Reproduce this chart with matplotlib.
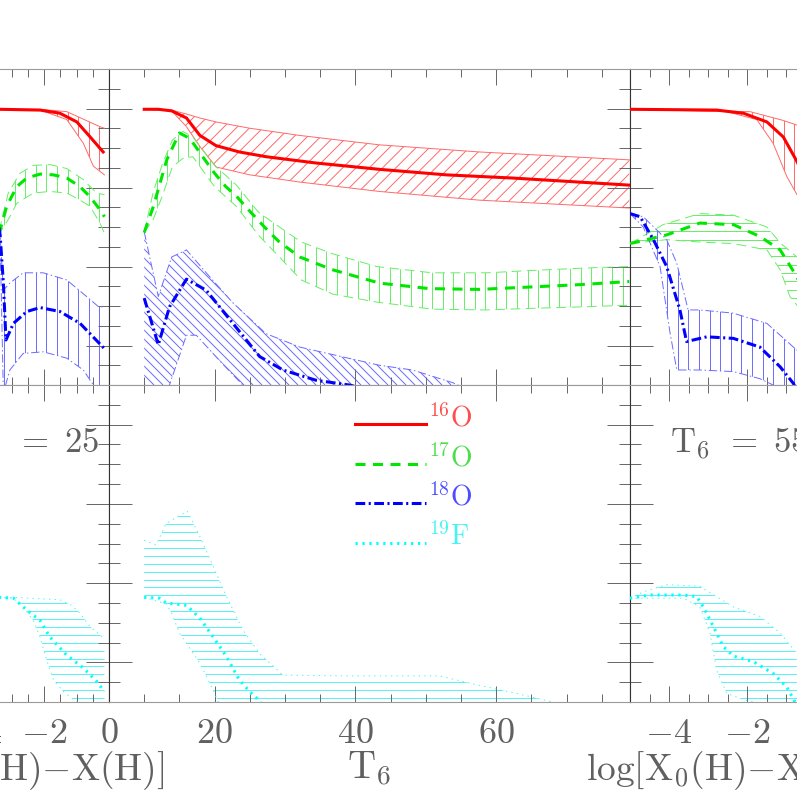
#!/usr/bin/env python3
# -*- coding: utf-8 -*-
"""
Oxygen isotopes (top) and 19F (bottom) with uncertainty bands:
left/right columns vs. log[X0(H)-X(H)] at fixed T6, middle column vs. T6.
"""

import numpy as np
import matplotlib
matplotlib.use('Agg')
import matplotlib.pyplot as plt
from matplotlib.patches import Polygon
from matplotlib.collections import LineCollection
from matplotlib.transforms import IdentityTransform
from matplotlib.ticker import MultipleLocator, FuncFormatter

plt.rcParams['mathtext.fontset'] = 'cm'
plt.rcParams['lines.scale_dashes'] = False

# --- left column (T6 = 25), x = log[X0(H)-X(H)] ---
L_O16_X = [-6, -3.35, -2.12, -1.51, -0.99, -0.58, -0.18]
L_O16 = [-2.01, -2.01, -2.02, -2.06, -2.17, -2.36, -2.55]
L_O16_UP_X = [-6, -2.12, -1.30, -0.28, -0.14]
L_O16_UP = [-2.01, -2.01, -2.04, -2.23, -2.25]
L_O16_LO_X = [-6, -2.12, -1.30, -0.79, -0.48, -0.14]
L_O16_LO = [-2.01, -2.02, -2.14, -2.44, -2.73, -2.84]

L_O17_X = [-3.6, -3.35, -3.15, -2.84, -2.53, -2.12, -1.71, -1.30, -0.89, -0.58, -0.28, -0.14]
L_O17 = [-3.9, -3.54, -3.24, -2.99, -2.88, -2.83, -2.84, -2.88, -2.99, -3.12, -3.28, -3.37]
L_O17_UP_X = [-3.6, -3.35, -3.10, -2.74, -2.33, -1.82, -1.30, -0.79, -0.38, -0.14]
L_O17_UP = [-3.85, -3.50, -3.07, -2.82, -2.72, -2.71, -2.76, -2.90, -3.07, -3.09]
L_O17_LO_X = [-3.6, -3.35, -3.05, -2.84, -2.33, -1.82, -1.30, -0.89, -0.58, -0.28, -0.14]
L_O17_LO = [-3.95, -3.57, -3.37, -3.20, -3.07, -3.05, -3.07, -3.16, -3.24, -3.45, -3.58]

L_O18_X = [-3.5, -3.35, -3.25, -3.17, -2.94, -2.53, -2.12, -1.51, -0.89, -0.14]
L_O18 = [-3.2, -3.60, -4.21, -4.93, -4.72, -4.57, -4.52, -4.57, -4.72, -5.04]
L_O18_UP_X = [-3.5, -3.35, -3.25, -3.05, -2.64, -2.02, -1.30, -0.69, -0.32, -0.14]
L_O18_UP = [-3.15, -3.60, -4.30, -4.21, -4.08, -4.08, -4.17, -4.38, -4.51, -4.51]
L_O18_LO_X = [-3.5, -3.35, -3.25, -3.05, -2.64, -2.02, -1.30, -0.79, -0.48, -0.32, -0.14]
L_O18_LO = [-3.25, -3.66, -5.60, -5.31, -5.10, -5.08, -5.16, -5.31, -5.50, -5.70, -5.70]

L_F19_X = [-6, -3.35, -2.94, -2.53, -2.12, -1.82, -1.30, -0.79, -0.38, -0.14]
L_F19 = [-8.18, -8.18, -8.19, -8.34, -8.47, -8.68, -8.91, -9.07, -9.24, -9.37]
L_F19_UP_X = [-6, -2.94, -1.51, -1.15, -0.89, -0.58, -0.14]
L_F19_UP = [-8.18, -8.18, -8.21, -8.28, -8.38, -8.55, -8.70]
L_F19_LO_X = [-6, -2.94, -2.64, -2.33, -2.12, -1.92, -1.71, -1.40, -0.99, -0.50, -0.14]
L_F19_LO = [-8.18, -8.19, -8.30, -8.47, -8.68, -8.97, -9.22, -9.37, -9.50, -9.70, -9.70]

# --- middle column, x = T6 ---
M_O16_X = [10, 12, 13.9, 16.0, 17.9, 20.2, 23.5, 27.3, 34.4, 43.4, 52.9, 62.3, 78.9]
M_O16 = [-2.01, -2.01, -2.03, -2.12, -2.34, -2.47, -2.55, -2.61, -2.69, -2.77, -2.84, -2.88, -2.97]
M_O16_UP_X = [10, 13.9, 16.0, 17.9, 20.2, 25, 32, 43.4, 57.6, 78.9]
M_O16_UP = [-2.01, -2.02, -2.07, -2.12, -2.17, -2.25, -2.34, -2.46, -2.55, -2.65]
M_O16_LO_X = [10, 13.9, 16.0, 17.9, 20.2, 25, 32, 43.4, 57.6, 78.9]
M_O16_LO = [-2.01, -2.03, -2.23, -2.48, -2.74, -2.84, -2.93, -3.05, -3.16, -3.26]

M_O17_X = [10, 11.3, 13.2, 15.0, 16.5, 18.3, 20.0, 21.6, 23.1, 25.0, 27.6, 29.2, 32.1,
           36.7, 43.4, 50.5, 57.6, 64.7, 71.8, 78.9]
M_O17 = [-3.57, -3.24, -2.65, -2.31, -2.38, -2.61, -2.82, -2.99, -3.11, -3.30, -3.55, -3.69,
         -3.88, -4.04, -4.21, -4.28, -4.29, -4.26, -4.23, -4.19]
M_O17_UP_X = [10, 11.3, 12.6, 14.0, 15.5, 16.9, 20.0, 23.1, 26.2, 29.2, 32.3, 36.8, 43.0,
              50.9, 58.7, 65.0, 72.5, 78.9]
M_O17_UP = [-3.57, -3.05, -2.70, -2.40, -2.29, -2.36, -2.72, -2.97, -3.31, -3.50, -3.69, -3.84,
            -4.00, -4.08, -4.08, -4.05, -4.02, -4.00]
M_O17_LO_X = M_O17_UP_X
M_O17_LO = [-3.57, -3.40, -3.10, -2.74, -2.63, -2.61, -2.99, -3.24, -3.60, -3.88, -4.17, -4.35,
            -4.45, -4.54, -4.55, -4.53, -4.51, -4.49]

M_O18_X = [10, 12.0, 13.6, 16.0, 18.8, 22.6, 26.4, 29.7, 34.4, 39.1, 42]
M_O18 = [-4.40, -4.99, -4.51, -4.16, -4.30, -4.72, -5.14, -5.31, -5.44, -5.50, -5.56]
M_O18_UP_X = [10, 12.0, 13.9, 16.0, 19.3, 22.6, 27.3, 32.1, 43.4, 48.1, 53.8, 57]
M_O18_UP = [-3.56, -4.38, -3.88, -3.79, -4.13, -4.46, -4.85, -5.02, -5.25, -5.31, -5.47, -5.6]
M_O18_LO_X = [10, 13.4, 16.0, 17.4, 21.1, 24.0, 27, 57]
M_O18_LO = [-5.8, -5.55, -4.87, -4.87, -5.23, -5.5, -5.8, -5.8]

M_F19_X = [10, 12.2, 13.1, 16.0, 17.9, 19.8, 21.7, 23.5, 25.0, 26.3, 27.5]
M_F19 = [-8.18, -8.19, -8.25, -8.28, -8.44, -8.68, -8.93, -9.22, -9.37, -9.48, -9.62]
M_F19_UP_X = [10, 11.7, 13.1, 16.1, 17.9, 19.8, 21.7, 24.0, 26.4, 29.7, 37.7, 51.9, 57.6,
              62.8, 68.0, 72]
M_F19_UP = [-7.46, -7.52, -7.25, -7.09, -7.41, -7.79, -8.17, -8.59, -8.89, -9.16, -9.17, -9.17,
            -9.29, -9.39, -9.50, -9.6]
M_F19_LO_X = [10, 13.1, 13.9, 15.0, 17.9, 19.8, 20.5, 21.5, 72]
M_F19_LO = [-8.18, -8.26, -8.38, -8.63, -9.01, -9.35, -9.50, -9.65, -9.65]

# --- right column (T6 = 55), x = log[X0(H)-X(H)] ---
R_O16_X = [-5, -2.78, -2.09, -1.49, -1.07, -0.72, -0.5]
R_O16 = [-2.01, -2.02, -2.06, -2.17, -2.36, -2.67, -2.9]
R_O16_UP_X = [-5, -1.92, -1.08, -0.72, -0.5]
R_O16_UP = [-2.01, -2.04, -2.15, -2.21, -2.26]
R_O16_LO_X = [-5, -2.52, -1.75, -1.33, -0.98, -0.72, -0.5]
R_O16_LO = [-2.01, -2.04, -2.14, -2.44, -2.86, -3.09, -3.2]

R_O17_X = [-5, -4.06, -3.21, -2.35, -1.67, -1.15, -0.72, -0.5]
R_O17 = [-3.71, -3.60, -3.45, -3.47, -3.62, -3.79, -4.13, -4.4]
R_O17_UP_X = [-5, -4.15, -3.21, -2.35, -1.49, -1.15, -0.72, -0.5]
R_O17_UP = [-3.71, -3.47, -3.33, -3.35, -3.50, -3.70, -3.88, -3.98]
R_O17_LO_X = [-5, -4.06, -3.21, -2.35, -1.49, -1.15, -0.90, -0.72, -0.5]
R_O17_LO = [-3.71, -3.66, -3.69, -3.71, -3.79, -4.04, -4.38, -4.49, -4.6]

R_O18_X = [-5, -4.74, -4.40, -4.06, -3.72, -3.55, -3.03, -2.35, -1.67, -1.15, -0.81, -0.6]
R_O18 = [-3.33, -3.37, -3.66, -4.00, -4.55, -4.95, -4.89, -4.91, -5.02, -5.27, -5.48, -5.7]
R_O18_UP_X = [-5, -4.66, -4.06, -3.80, -3.51, -3.21, -2.36, -1.49, -0.81, -0.5]
R_O18_UP = [-3.33, -3.37, -3.66, -3.96, -4.55, -4.55, -4.59, -4.72, -5.02, -5.15]
R_O18_LO_X = [-5, -4.66, -4.23, -3.97, -3.80, -3.21, -2.35, -1.67, -1.33, -1.0, -0.5]
R_O18_LO = [-3.33, -3.50, -4.00, -4.85, -5.31, -5.31, -5.33, -5.42, -5.50, -5.7, -5.7]

R_F19_X = [-5, -4.49, -3.63, -3.29, -3.12, -2.86, -2.61, -2.35, -1.84, -1.33, -0.98, -0.77, -0.6]
R_F19 = [-8.19, -8.15, -8.15, -8.17, -8.30, -8.55, -8.80, -8.92, -8.99, -9.14, -9.31, -9.50, -9.7]
R_F19_UP_X = [-5, -4.66, -4.06, -3.21, -2.78, -2.35, -1.67, -1.15, -0.72, -0.5]
R_F19_UP = [-8.19, -8.11, -8.02, -8.04, -8.17, -8.30, -8.42, -8.63, -8.89, -9.0]
R_F19_LO_X = [-5, -3.63, -3.21, -2.95, -2.78, -2.52, -2.09, -1.67, -0.5]
R_F19_LO = [-8.19, -8.19, -8.30, -8.63, -9.10, -9.39, -9.47, -9.52, -9.7]

LEGEND_ORDER = ['o16', 'o17', 'o18', 'f19']

SPECIES = {
    'o16': dict(color='#ff0000', soft='#ff6a6a', dashes=None, edge=None,
                label=r'$^{16}\mathrm{O}$', text='#ff4d4d'),
    'o17': dict(color='#00e600', soft='#66ee66', dashes=(7.2, 5.4), edge=(7, 4),
                label=r'$^{17}\mathrm{O}$', text='#4ddd4d'),
    'o18': dict(color='#0000ff', soft='#6a6aff', dashes=(7, 2.5, 1.5, 2.5), edge=(6, 2, 1, 2),
                label=r'$^{18}\mathrm{O}$', text='#4d4dff'),
    'f19': dict(color='#00ffff', soft='#55f2f2', dashes=(1.6, 3.4), edge=(1, 3),
                label=r'$^{19}\mathrm{F}$', text='#44f4f4'),
}

FIG_W, FIG_H = 797, 799
COLS = [(-86, 195), (109, 521), (630, 195)]   # left px, width px
ROWS = [(69, 316), (385, 317)]                # top px, height px
GRAY = '#606060'
XLABEL_LOG = r'$\log[\mathrm{X_0(H){-}X(H)}]$'
T6_TEXT = r'$\mathrm{T_6}\ \hspace{0.1}=\ %d$'


def hatch_lines(ax, patch, kind, step, color):
    # hatch drawn in pixel space so the spacing matches the original
    bb = ax.bbox
    x0, y0, x1, y1 = bb.x0, bb.y0, bb.x1, bb.y1
    segs = []
    if kind == '|':
        for x in np.arange(x0 + step / 2, x1, step):
            segs.append([(x, y0), (x, y1)])
    elif kind == '-':
        for y in np.arange(y0 + step / 2, y1, step):
            segs.append([(x0, y), (x1, y)])
    else:
        h = y1 - y0
        for c in np.arange(x0 - h, x1, step):
            if kind == '/':
                segs.append([(c, y0), (c + h, y1)])
            else:
                segs.append([(c, y1), (c + h, y0)])
    lc = LineCollection(segs, colors=color, linewidths=0.7,
                        transform=IdentityTransform(), zorder=1)
    ax.add_collection(lc, autolim=False)
    lc.set_clip_box(ax.bbox)
    lc.set_clip_path(patch)


def draw_species(ax, sp, x, y, xu, yu, xl, yl, kind, step):
    st = SPECIES[sp]
    xs = np.r_[xu, np.asarray(xl)[::-1]]
    ys = np.r_[yu, np.asarray(yl)[::-1]]
    band = Polygon(np.column_stack([xs, ys]), closed=True, fc='none', ec='none')
    ax.add_patch(band)
    hatch_lines(ax, band, kind, step, st['soft'])
    for bx, by in ((xu, yu), (xl, yl)):
        ln, = ax.plot(bx, by, color=st['soft'], lw=0.7, zorder=2)
        if st['edge']:
            ln.set_dashes(st['edge'])
    ln, = ax.plot(x, y, color=st['color'], lw=2.2, zorder=3)
    if st['dashes']:
        ln.set_dashes(st['dashes'])


def make_axes(fig, col, row, z):
    x0, w = col
    y0, h = row
    ax = fig.add_axes([x0 / FIG_W, 1 - (y0 + h) / FIG_H, w / FIG_W, h / FIG_H])
    ax.set_zorder(z)
    return ax


def style_axes(ax, xlim, ylim, xmaj, xmin, labels):
    ax.set_xlim(xlim)
    ax.set_ylim(ylim)
    ax.xaxis.set_major_locator(MultipleLocator(xmaj))
    ax.xaxis.set_minor_locator(MultipleLocator(xmin))
    ax.yaxis.set_major_locator(MultipleLocator(1))
    ax.yaxis.set_minor_locator(MultipleLocator(0.25))
    ax.xaxis.set_major_formatter(FuncFormatter(lambda v, p: f'${int(round(v))}$'))
    ax.tick_params(which='both', direction='in', top=True, bottom=True, left=True,
                   right=True, color='#666666', width=0.7, labelleft=False,
                   labelbottom=labels, labelsize=26, labelcolor=GRAY, pad=10)
    ax.tick_params(axis='x', which='major', length=11.5)
    ax.tick_params(axis='x', which='minor', length=5.8)
    ax.tick_params(axis='y', which='major', length=16.5)
    ax.tick_params(axis='y', which='minor', length=8)
    for s in ('top', 'bottom'):
        ax.spines[s].set_color('#9a9a9a')
        ax.spines[s].set_linewidth(0.8)
    for s in ('left', 'right'):
        ax.spines[s].set_color('#333333')
        ax.spines[s].set_linewidth(0.8)


def main():
    fig = plt.figure(figsize=(FIG_W / 100, FIG_H / 100), dpi=100)

    # left column
    ax = make_axes(fig, COLS[0], ROWS[0], 1)
    draw_species(ax, 'o16', L_O16_X, L_O16, L_O16_UP_X, L_O16_UP, L_O16_LO_X, L_O16_LO, '|', 10.6)
    draw_species(ax, 'o17', L_O17_X, L_O17, L_O17_UP_X, L_O17_UP, L_O17_LO_X, L_O17_LO, '|', 10.6)
    draw_species(ax, 'o18', L_O18_X, L_O18, L_O18_UP_X, L_O18_UP, L_O18_LO_X, L_O18_LO, '|', 10.6)
    style_axes(ax, (-6, 0), (-5.5, -1.5), 2, 0.5, False)

    ax = make_axes(fig, COLS[0], ROWS[1], 1)
    draw_species(ax, 'f19', L_F19_X, L_F19, L_F19_UP_X, L_F19_UP, L_F19_LO_X, L_F19_LO, '-', 7.9)
    style_axes(ax, (-6, 0), (-9.5, -5.5), 2, 0.5, True)
    ax.set_xlabel(XLABEL_LOG, fontsize=27, color=GRAY)
    ax.xaxis.set_label_coords(0.56, -0.15)
    ax.text(0.954, 0.785, T6_TEXT % 25, transform=ax.transAxes,
            ha='right', va='baseline', fontsize=25, color=GRAY)

    # middle column
    ax = make_axes(fig, COLS[1], ROWS[0], 2)
    draw_species(ax, 'o16', M_O16_X, M_O16, M_O16_UP_X, M_O16_UP, M_O16_LO_X, M_O16_LO, '/', 13.3)
    draw_species(ax, 'o17', M_O17_X, M_O17, M_O17_UP_X, M_O17_UP, M_O17_LO_X, M_O17_LO, '|', 10.6)
    draw_species(ax, 'o18', M_O18_X, M_O18, M_O18_UP_X, M_O18_UP, M_O18_LO_X, M_O18_LO, '\\', 9.0)
    style_axes(ax, (5, 79), (-5.5, -1.5), 20, 5, False)

    ax = make_axes(fig, COLS[1], ROWS[1], 2)
    draw_species(ax, 'f19', M_F19_X, M_F19, M_F19_UP_X, M_F19_UP, M_F19_LO_X, M_F19_LO, '-', 7.9)
    style_axes(ax, (5, 79), (-9.5, -5.5), 20, 5, True)
    ax.set_xlabel(r'$\mathrm{T_6}$', fontsize=28, color=GRAY)
    ax.xaxis.set_label_coords(0.5, -0.15)
    # legend: line sample + coloured label
    for i, sp in enumerate(LEGEND_ORDER):
        st = SPECIES[sp]
        yy = 0.877 - 0.125 * i
        ln, = ax.plot([0.472, 0.608], [yy, yy], transform=ax.transAxes,
                      color=st['color'], lw=2.2, zorder=4)
        if st['dashes']:
            ln.set_dashes(st['dashes'])
        ax.text(0.612, yy - 0.008, st['label'], transform=ax.transAxes,
                fontsize=20, color=st['text'], va='baseline')

    # right column
    ax = make_axes(fig, COLS[2], ROWS[0], 3)
    draw_species(ax, 'o16', R_O16_X, R_O16, R_O16_UP_X, R_O16_UP, R_O16_LO_X, R_O16_LO, '|', 10.6)
    draw_species(ax, 'o17', R_O17_X, R_O17, R_O17_UP_X, R_O17_UP, R_O17_LO_X, R_O17_LO, '-', 8.3)
    draw_species(ax, 'o18', R_O18_X, R_O18, R_O18_UP_X, R_O18_UP, R_O18_LO_X, R_O18_LO, '|', 10.6)
    style_axes(ax, (-5, 0), (-5.5, -1.5), 2, 0.5, False)

    ax = make_axes(fig, COLS[2], ROWS[1], 3)
    draw_species(ax, 'f19', R_F19_X, R_F19, R_F19_UP_X, R_F19_UP, R_F19_LO_X, R_F19_LO, '-', 7.9)
    style_axes(ax, (-5, 0), (-9.5, -5.5), 2, 0.5, True)
    ax.set_xlabel(XLABEL_LOG, fontsize=27, color=GRAY)
    ax.xaxis.set_label_coords(0.5, -0.15)
    ax.text(0.205, 0.785, T6_TEXT % 55, transform=ax.transAxes,
            ha='left', va='baseline', fontsize=25, color=GRAY)

    fig.savefig('out.png', dpi=100)
    plt.close(fig)


if __name__ == '__main__':
    main()
